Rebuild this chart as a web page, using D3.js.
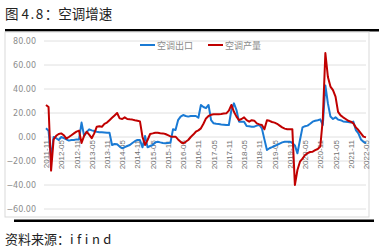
<!DOCTYPE html>
<html>
<head>
<meta charset="utf-8">
<script src="https://cdn.jsdelivr.net/npm/d3@7"></script>
<style>
  body { margin: 0; background: #fff; }
  text { font-family: "Noto Sans CJK SC", "Noto Sans", sans-serif; }
</style>
</head>
<body>
<svg id="chart"></svg>
<script>
// monthly series, 2011-11 .. 2022-05
const startYear = 2011, startMonth = 11;
const exportGrowth = [
  7.2, 5.3, -17, 0, -1, -2.5, 0, -1, -2, -3, -2.5, -2.5, -2, -2, 12, 1, 4, 6.4, 5.5, 5,
  4.4, 4, 4, 3.8, 3.6, 3.6, -6.7, -5.8, -6, -8, -9.4, -8.5, -7.5, -6.7, -5, -3.5, -2.5, -2.5, -8.6, 0.8,
  -8.6, -7.5, -6.7, -4.5, -3.9, -4.5, -5, -5.3, -5, -4.7, 6.4, 5.8, 14, 17, 18.3, 17.5, 17, 17.5, 17.5, 17.5,
  16, 26.7, 25, 24, 26.7, 14, 11.4, 11, 10.8, 10.5, 10.3, 10, 10, 22.5, 28, 22.5, 12.8, 12.8, 12.8, 9.2,
  9, 8.6, 8.6, 9.5, 10, 7.2, -2, -10.8, -9.4, -8.5, -7.5, -6.5, -5.5, -4.5, -4, -3.9, -3.9, -5, -7, -13.6,
  -2.5, 8, 9, 9.5, 11, 12.8, 13.5, 14, 14.7, 10, 43, 28, 17, 15, 16.4, 14.5, 14, 13, 12.8, 12.5,
  12, 12.8, 5.8, 3, -2, -4, -5
];
const outputGrowth = [
  26.7, 25, -28, -2, 1, 2.5, 3, 1.5, -1.4, 0, 1.5, 3, 4.5, 5.3, -5, 1, 4.4, 2, -1, 3,
  8.6, 9, 8.5, 11, 12, 14, 16, 18, 20, 15.5, 15, 16.4, 15, 14.7, 14.5, 14, 13.6, 13, 0, -6.7,
  -2.5, 2.5, 3, 3.6, 3.6, 3.2, 3, 2.5, 1.5, 0.5, 0.3, 0.3, -2, -4, -5.3, -4, -2.5, 0, 2, 4.4,
  5.5, 7.2, 11, 15.5, 17.5, 18.5, 19, 19, 19, 19.2, 19.5, 19.7, 22, 26.7, 21, 17, 14, 15, 16.4, 14,
  12.8, 14, 13.6, 11.4, 10.5, 10, 6.4, 14, 13.5, 12.5, 12, 11, 9.5, 8, 7, 6.4, 6.4, 6.4, -40, -27.5,
  -20.6, -18, -15, -13.5, -12.5, -12.2, -11, -10, -8, 15, 70, 50, 42, 39, 33.6, 21, 18, 16.4, 15, 13.5,
  12.8, 11.4, 8, 5.8, 3, 0.3, -0.3
];
const seriesNames = ["空调出口", "空调产量"];
const seriesColors = ["#1a7ad4", "#c00000"];
const yTicks = [-60, -40, -20, 0, 20, 40, 60, 80];

const months = exportGrowth.map((d, i) => {
  const m = startMonth - 1 + i;
  const y = startYear + Math.floor(m / 12);
  const mm = (m % 12) + 1;
  return y + "-" + (mm < 10 ? "0" + mm : mm);
});
const xLabels = months.filter((d, i) => i % 6 === 0);

const W = 381, H = 249;
const svg = d3.select("#chart").attr("width", W).attr("height", H);

// title + rules
const title = svg.append("text").attr("x", 5).attr("y", 19)
  .attr("font-size", 13.5).attr("fill", "#222");
title.append("tspan").text("图 ");
title.append("tspan").attr("letter-spacing", 1.5).text("4.8");
title.append("tspan").text("：空调增速");
svg.append("rect").attr("x", 5).attr("y", 29).attr("width", 374).attr("height", 2.5).attr("fill", "#000");
svg.append("rect").attr("x", 5).attr("y", 32).attr("width", 364).attr("height", 185)
  .attr("fill", "none").attr("stroke", "#d9d9d9");
svg.append("rect").attr("x", 14).attr("y", 219.5).attr("width", 360).attr("height", 2.5).attr("fill", "#000");
const src = svg.append("text").attr("x", 5).attr("y", 244)
  .attr("font-size", 13).attr("fill", "#222");
src.append("tspan").text("资料来源：");
src.append("tspan").attr("letter-spacing", 3.5).text("ifind");

const x = d3.scalePoint().domain(months).range([46, 366]);
const y = d3.scaleLinear().domain([-60, 80]).range([209, 41]);

// gridlines
svg.append("g")
  .selectAll("line").data(yTicks).join("line")
  .attr("x1", 44).attr("x2", 366)
  .attr("y1", d => y(d)).attr("y2", d => y(d))
  .attr("stroke", "#e0e0e0").attr("stroke-width", 1);

// y axis labels
const yAxis = d3.axisLeft(y).tickValues(yTicks).tickFormat(d3.format(".2f")).tickSize(0).tickPadding(0);
const yg = svg.append("g").attr("transform", "translate(36,0)").call(yAxis);
yg.select(".domain").remove();
yg.selectAll("text").attr("fill", "#8c8c8c")
  .style("font-family", "'DejaVu Sans', sans-serif").style("font-size", "8px");

// x axis labels, rotated, hanging below zero
const xAxis = d3.axisBottom(x).tickValues(xLabels).tickSize(0).tickPadding(0);
const xg = svg.append("g").attr("transform", `translate(0,${y(0)})`).call(xAxis);
xg.select(".domain").remove();
xg.selectAll("text")
  .attr("transform", "rotate(-90)")
  .attr("text-anchor", "end")
  .attr("x", -3).attr("y", 0).attr("dy", "0.32em")
  .attr("fill", "#6f6f6f")
  .style("font-family", "'Liberation Sans', sans-serif").style("font-size", "8px");

// lines
const line = d3.line().x((d, i) => x(months[i])).y(d => y(d));
[exportGrowth, outputGrowth].forEach((s, k) => {
  svg.append("path").datum(s)
    .attr("fill", "none").attr("stroke", seriesColors[k])
    .attr("stroke-width", 2).attr("stroke-linejoin", "round")
    .attr("d", line);
});

// legend
const legendX = [140, 208];
seriesNames.forEach((n, k) => {
  const g = svg.append("g").attr("transform", `translate(${legendX[k]},45)`);
  g.append("line").attr("x1", 0).attr("x2", 15).attr("y1", 0).attr("y2", 0)
    .attr("stroke", seriesColors[k]).attr("stroke-width", 2);
  g.append("text").attr("x", 17).attr("y", 3.5).attr("font-size", 9).attr("fill", "#8c8c8c").text(n);
});
</script>
</body>
</html>
